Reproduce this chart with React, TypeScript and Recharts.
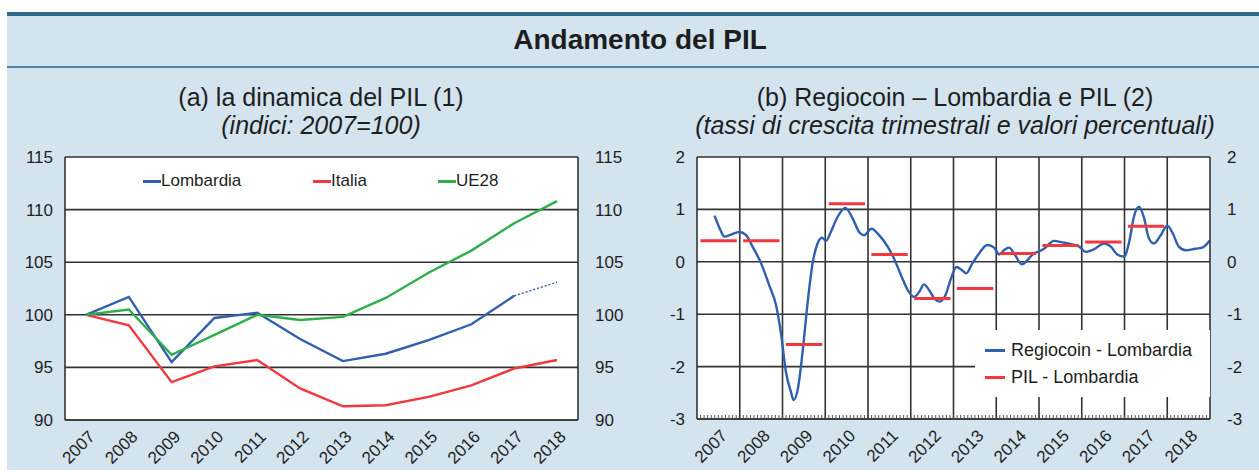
import React from 'react';
import { LineChart, Line, XAxis, YAxis, CartesianGrid, ReferenceLine, Legend } from 'recharts';

// ---------- Panel (a) data ----------
const years = ['2007', '2008', '2009', '2010', '2011', '2012', '2013', '2014', '2015', '2016', '2017', '2018'];
const lombardia = [100, 101.7, 95.5, 99.7, 100.2, 97.7, 95.6, 96.3, 97.6, 99.1, 101.8, null];
const lombardiaStima = [null, null, null, null, null, null, null, null, null, null, 101.8, 103.1];
const italia = [100, 99.0, 93.6, 95.1, 95.7, 93.0, 91.3, 91.4, 92.2, 93.3, 94.9, 95.7];
const ue28 = [100, 100.5, 96.2, 98.1, 100.0, 99.5, 99.8, 101.6, 104.0, 106.1, 108.7, 110.8];
const ticksA = [90, 95, 100, 105, 110, 115];
const legendOrderA = ['Lombardia', 'Italia', 'UE28'];

// ---------- Panel (b) data ----------
const regioTime = [
  2007.41, 2007.53, 2007.64, 2007.8, 2007.99, 2008.15, 2008.3, 2008.5, 2008.69, 2008.85,
  2008.97, 2009.08, 2009.2, 2009.26, 2009.36, 2009.47, 2009.59, 2009.71, 2009.82, 2009.92,
  2010.02, 2010.13, 2010.29, 2010.47, 2010.64, 2010.8, 2010.91, 2011.08, 2011.26, 2011.46,
  2011.61, 2011.77, 2011.93, 2012.08, 2012.2, 2012.31, 2012.43, 2012.55, 2012.68, 2012.81,
  2012.94, 2013.07, 2013.2, 2013.3, 2013.44, 2013.6, 2013.79, 2013.95, 2014.07, 2014.18,
  2014.3, 2014.44, 2014.6, 2014.73, 2014.85, 2015.0, 2015.12, 2015.35, 2015.55, 2015.78,
  2015.94, 2016.09, 2016.29, 2016.52, 2016.68, 2016.83, 2016.99, 2017.11, 2017.22, 2017.34,
  2017.46, 2017.57, 2017.69, 2017.85, 2018.0, 2018.13, 2018.27, 2018.43, 2018.66, 2018.82,
  2019.0,
];
const regioValue = [
  0.88, 0.64, 0.48, 0.52, 0.57, 0.51, 0.29, -0.03, -0.45, -0.83,
  -1.4, -2.1, -2.49, -2.64, -2.42, -1.72, -0.76, 0.0, 0.35, 0.46,
  0.4, 0.57, 0.86, 1.03, 0.83, 0.56, 0.51, 0.63, 0.51, 0.29,
  0.06, -0.25, -0.54, -0.67, -0.57, -0.43, -0.54, -0.7, -0.76, -0.64,
  -0.32, -0.1, -0.16, -0.22, -0.03, 0.16, 0.32, 0.27, 0.14, 0.22,
  0.27, 0.13, -0.05, 0.03, 0.14, 0.2, 0.25, 0.4, 0.37, 0.33,
  0.29, 0.19, 0.24, 0.35, 0.29, 0.14, 0.1, 0.38, 0.86, 1.05,
  0.83, 0.45, 0.35, 0.51, 0.69, 0.54, 0.29, 0.22, 0.25, 0.27,
  0.41,
];
const pilYears = [2007, 2008, 2009, 2010, 2011, 2012, 2013, 2014, 2015, 2016, 2017];
const pilValues = [0.4, 0.4, -1.58, 1.11, 0.14, -0.7, -0.51, 0.16, 0.31, 0.38, 0.68];
const yearLabelsB = ['2007', '2008', '2009', '2010', '2011', '2012', '2013', '2014', '2015', '2016', '2017', '2018'];
const ticksB = [-3, -2, -1, 0, 1, 2];
const legendOrderB = ['Regiocoin - Lombardia', 'PIL - Lombardia'];

// ---------- derived tables ----------
const dataA = years.map((y, i) => ({
  year: y,
  lombardia: lombardia[i],
  lombardiaStima: lombardiaStima[i],
  italia: italia[i],
  ue28: ue28[i],
}));
const regioData = regioTime.map((t, i) => ({ t, v: regioValue[i] }));
const pilData: { t: number; v: number | null }[] = [];
pilYears.forEach((y, i) => {
  pilData.push({ t: y + 0.08, v: pilValues[i] });
  pilData.push({ t: y + 0.93, v: pilValues[i] });
  pilData.push({ t: y + 0.96, v: null });
});
const labelTicksB = yearLabelsB.map((y) => Number(y) + 0.5);
const yearLinesB = yearLabelsB.slice(1).map((y) => Number(y));
const minorTicksB: number[] = [];
for (let m = 1; m < 144; m++) minorTicksB.push(2007 + m / 12);

// ---------- styles ----------
const FONT = '"Liberation Sans", Arial, Helvetica, sans-serif';
const BG = '#d3e4ee';
const GRID = '#333333';
const TEXT = '#1e1e1e';
const BLUE = '#2f5fae';
const RED = '#f0393f';
const GREEN = '#2fae4a';

const tickStyle = { fill: TEXT, fontSize: 17, fontFamily: FONT };

const RotTick = (props: any) => {
  const { x, y, payload, fmt } = props;
  const label = fmt ? fmt(payload.value) : payload.value;
  return (
    <text
      x={x + 6}
      y={y + 6}
      transform={`rotate(-45 ${x + 6} ${y + 6})`}
      textAnchor="end"
      dominantBaseline="central"
      fill={TEXT}
      fontSize={17}
      fontFamily={FONT}
    >
      {label}
    </text>
  );
};

const EmptyTick = () => <g />;

const orderPayload = (payload: any[], order: string[]) =>
  order.map((n) => (payload || []).find((p: any) => p.value === n)).filter(Boolean);

const LegendA = (props: any) => {
  const widths = [170, 125, 120];
  return (
    <div style={{ display: 'flex', fontFamily: FONT, fontSize: 17, color: TEXT, lineHeight: '20px' }}>
      {orderPayload(props.payload, legendOrderA).map((p: any, i: number) => (
        <div key={p.value} style={{ width: widths[i], display: 'flex', alignItems: 'center' }}>
          <span style={{ display: 'inline-block', width: 18, height: 3, background: p.color }} />
          <span>{p.value}</span>
        </div>
      ))}
    </div>
  );
};

const LegendB = (props: any) => (
  <div style={{ background: '#fff', fontFamily: FONT, fontSize: 18, color: TEXT, padding: '7px 0 0 10px', height: 67, boxSizing: 'border-box' }}>
    {orderPayload(props.payload, legendOrderB).map((p: any) => (
      <div key={p.value} style={{ display: 'flex', alignItems: 'center', height: 27 }}>
        <span style={{ display: 'inline-block', width: 20, height: 3, background: p.color, marginRight: 6 }} />
        <span>{p.value}</span>
      </div>
    ))}
  </div>
);

export default function App() {
  return (
    <div style={{ position: 'absolute', left: 0, top: 0, width: 1259, height: 472, background: '#fff', overflow: 'hidden', fontFamily: FONT }}>
      <div style={{ position: 'absolute', left: 7, top: 13, width: 1252, height: 457, background: BG }} />
      <div style={{ position: 'absolute', left: 7, top: 12, width: 1252, height: 4, background: '#2b6a8a' }} />
      <div style={{ position: 'absolute', left: 7, top: 66, width: 1252, height: 2, background: '#4d89a8' }} />
      <div style={{ position: 'absolute', left: 0, width: 1280, top: 24, textAlign: 'center', fontWeight: 'bold', fontSize: 28, color: TEXT, lineHeight: '32px' }}>
        Andamento del PIL
      </div>
      <div style={{ position: 'absolute', left: 0, width: 642, top: 83, textAlign: 'center', fontSize: 25, color: TEXT, lineHeight: '28px' }}>
        <div>(a) la dinamica del PIL (1)</div>
        <div style={{ fontStyle: 'italic' }}>(indici: 2007=100)</div>
      </div>
      <div style={{ position: 'absolute', left: 634, width: 642, top: 83, textAlign: 'center', fontSize: 25, color: TEXT, lineHeight: '28px' }}>
        <div>(b) Regiocoin – Lombardia e PIL (2)</div>
        <div style={{ fontStyle: 'italic' }}>(tassi di crescita trimestrali e valori percentuali)</div>
      </div>

      {/* Panel (a) */}
      <div style={{ position: 'absolute', left: 0, top: 140 }}>
        <LineChart width={632} height={330} data={dataA} margin={{ top: 17, right: 0, bottom: 0, left: 0 }}>
          <CartesianGrid yAxisId="left" vertical={false} stroke={GRID} strokeWidth={1.6} fill="#fff" fillOpacity={1} />
          <XAxis
            dataKey="year"
            height={50}
            padding={{ left: 21, right: 21 }}
            axisLine={{ stroke: GRID, strokeWidth: 1.6 }}
            tickLine={false}
            interval={0}
            tick={<RotTick />}
          />
          <YAxis yAxisId="left" width={65} domain={[90, 115]} ticks={ticksA} allowDataOverflow axisLine={{ stroke: GRID, strokeWidth: 1.6 }} tickLine={false} tickSize={0} tickMargin={12} tick={tickStyle} />
          <YAxis yAxisId="right" orientation="right" width={54} domain={[90, 115]} ticks={ticksA} allowDataOverflow axisLine={{ stroke: GRID, strokeWidth: 1.6 }} tickLine={false} tickSize={0} tickMargin={17} tick={tickStyle} />
          <Legend
            layout="horizontal"
            verticalAlign="middle"
            align="center"
            content={<LegendA />}
            wrapperStyle={{ left: 143, top: 31, width: 420 }}
          />
          <Line yAxisId="left" dataKey="lombardia" name="Lombardia" stroke={BLUE} strokeWidth={2.4} dot={false} isAnimationActive={false} />
          <Line yAxisId="left" dataKey="italia" name="Italia" stroke={RED} strokeWidth={2.4} dot={false} isAnimationActive={false} />
          <Line yAxisId="left" dataKey="ue28" name="UE28" stroke={GREEN} strokeWidth={2.4} dot={false} isAnimationActive={false} />
          <Line yAxisId="left" dataKey="lombardiaStima" name="Lombardia (stima)" legendType="none" stroke={BLUE} strokeWidth={1.4} strokeDasharray="2 2" dot={false} isAnimationActive={false} />
        </LineChart>
      </div>

      {/* Panel (b) */}
      <div style={{ position: 'absolute', left: 632, top: 140 }}>
        <LineChart width={627} height={330} margin={{ top: 17, right: 0, bottom: 0, left: 0 }}>
          <CartesianGrid yAxisId="left" vertical={false} stroke={GRID} strokeWidth={1.6} fill="#fff" fillOpacity={1} />
          <XAxis
            xAxisId="minor"
            type="number"
            dataKey="t"
            domain={[2007, 2019]}
            allowDataOverflow
            ticks={minorTicksB}
            interval={0}
            height={1}
            mirror
            axisLine={{ stroke: GRID, strokeWidth: 1.6 }}
            tick={<EmptyTick />}
            tickSize={4}
            tickLine={{ stroke: '#444', strokeWidth: 0.9 }}
          />
          <XAxis
            type="number"
            dataKey="t"
            domain={[2007, 2019]}
            allowDataOverflow
            ticks={labelTicksB}
            interval={0}
            height={51}
            axisLine={false}
            tickLine={false}
            tick={<RotTick fmt={(v: number) => String(Math.floor(v))} />}
          />
          <YAxis yAxisId="left" width={65} domain={[-3, 2]} ticks={ticksB} allowDataOverflow axisLine={{ stroke: GRID, strokeWidth: 1.6 }} tickLine={false} tickSize={0} tickMargin={12} tick={tickStyle} />
          <YAxis yAxisId="right" orientation="right" width={49} domain={[-3, 2]} ticks={ticksB} allowDataOverflow axisLine={{ stroke: GRID, strokeWidth: 1.6 }} tickLine={false} tickSize={0} tickMargin={17} tick={tickStyle} />
          {yearLinesB.map((y) => (
            <ReferenceLine key={y} yAxisId="left" x={y} stroke={GRID} strokeWidth={1.6} />
          ))}
          <Legend
            layout="horizontal"
            verticalAlign="middle"
            align="center"
            content={<LegendB />}
            wrapperStyle={{ left: 343, top: 190, width: 235 }}
          />
          <Line yAxisId="left" data={regioData} dataKey="v" name="Regiocoin - Lombardia" type="monotone" stroke={BLUE} strokeWidth={2.4} dot={false} isAnimationActive={false} />
          <Line yAxisId="left" xAxisId="minor" data={pilData} dataKey="v" name="PIL - Lombardia" stroke={RED} strokeWidth={3} dot={false} connectNulls={false} isAnimationActive={false} />
        </LineChart>
      </div>
    </div>
  );
}
